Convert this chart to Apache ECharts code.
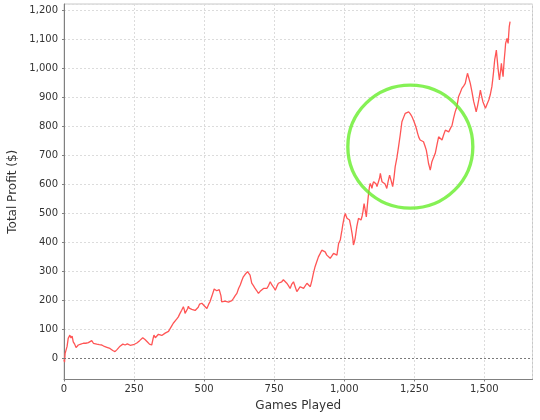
<!DOCTYPE html>
<html><head><meta charset="utf-8">
<script src="https://cdn.jsdelivr.net/npm/echarts@6/dist/echarts.min.js"></script>
<style>html,body{margin:0;padding:0;background:#fff}#c{width:540px;height:420px}</style>
</head><body><div id="c"></div>
<script>
var games = [0,2,4,7,11,15,21,25,29,33,38,43,47,51,55,60,65,69,74,78,83,87,92,99,105,111,117,122,126,131,135,140,144,148,153,158,164,169,174,178,182,186,190,195,200,205,210,214,218,222,226,230,236,242,248,254,260,265,270,276,281,285,289,293,297,301,305,309,313,317,321,326,332,337,343,349,355,361,367,373,379,384,390,396,402,408,414,420,426,429,432,435,438,441,444,447,450,456,462,468,474,479,484,488,492,497,503,510,516,521,527,530,533,536,539,545,551,554,557,560,563,569,575,581,587,593,599,605,611,617,623,629,635,640,646,652,655,658,661,664,667,670,676,682,688,694,700,706,712,718,724,730,736,742,748,754,760,765,771,777,783,789,795,801,807,813,819,825,831,837,843,849,855,861,867,873,879,885,890,896,902,908,914,920,926,932,938,944,950,956,962,968,974,977,980,983,986,989,992,995,998,1001,1004,1007,1010,1015,1019,1024,1028,1031,1033,1036,1039,1042,1045,1048,1051,1056,1060,1064,1067,1069,1071,1075,1079,1083,1087,1090,1093,1096,1099,1102,1105,1108,1111,1114,1117,1120,1123,1126,1129,1132,1135,1138,1140,1146,1152,1157,1162,1168,1173,1178,1182,1188,1194,1200,1206,1212,1218,1224,1230,1236,1242,1248,1254,1258,1262,1266,1271,1277,1283,1288,1293,1297,1301,1304,1307,1310,1313,1319,1325,1331,1337,1343,1349,1355,1361,1367,1373,1379,1385,1390,1396,1402,1408,1414,1420,1426,1432,1436,1440,1445,1450,1456,1462,1467,1471,1476,1480,1483,1486,1490,1495,1500,1504,1510,1516,1521,1527,1530,1533,1535,1537,1540,1543,1546,1549,1552,1554,1558,1561,1564,1567,1569,1571,1574,1576,1579,1581,1583,1585,1587,1589,1592];
var profit = [-5,-14,16,22,40,68,79,69,76,56,48,36,42,45,44,48,50,51,52,51,53,53,56,60,51,50,48,47,46,44,45,42,40,41,37,35,33,29,26,24,22,27,30,36,41,45,48,46,45,43,49,48,44,41,46,48,52,53,60,62,70,66,64,60,56,52,48,50,45,63,79,70,75,82,85,78,80,86,88,92,97,110,120,125,134,142,154,165,177,168,154,160,154,170,179,172,166,168,171,164,160,175,186,180,189,183,178,171,185,194,200,220,229,238,240,232,229,236,240,215,194,198,196,200,193,189,198,206,215,223,240,252,268,280,288,294,298,303,295,286,272,258,250,240,232,223,230,234,240,237,240,250,263,252,244,234,248,258,260,263,270,275,258,250,240,255,263,246,229,238,246,243,240,246,258,252,246,269,292,315,332,349,360,372,378,366,355,350,344,352,361,358,355,375,395,401,407,425,441,460,476,490,499,490,482,480,476,452,430,410,390,400,413,433,453,468,482,480,476,490,505,520,533,510,487,530,568,590,602,595,585,600,608,612,614,600,591,594,597,620,637,622,608,612,614,600,585,610,631,610,591,625,660,690,729,770,815,830,844,846,849,842,832,818,803,790,775,762,752,750,746,732,717,695,671,660,648,662,677,692,706,735,763,758,752,770,786,783,780,792,803,826,849,866,901,915,930,938,947,965,982,965,947,918,885,866,849,870,890,907,924,905,884,872,861,876,890,907,936,960,987,1008,1028,1045,1062,1030,999,975,959,990,1016,990,970,1000,1028,1060,1085,1095,1102,1093,1085,1115,1143,1160];
var highlight = [[1236, 729]];
var xMin = 0, xMax = 1672, yMin = -74, yMax = 1221;

var lineData = games.map(function (g, i) { return [g, profit[i]]; });
var chart = echarts.init(document.getElementById('c'), null, {renderer: 'canvas'});
var labelStyle = {color: '#333', fontSize: 10, fontFamily: 'DejaVu Sans'};
chart.setOption({
  animation: false,
  backgroundColor: '#fff',
  grid: {left: 64, right: 7.5, top: 4, bottom: 40.5, show: true, borderColor: '#c8c8c8', borderWidth: 1, containLabel: false, outerBoundsMode: 'none'},
  xAxis: {
    type: 'value', min: xMin, max: xMax, interval: 250,
    name: 'Games Played', nameLocation: 'middle', nameGap: 19,
    nameTextStyle: {color: '#333', fontSize: 12, fontFamily: 'DejaVu Sans'},
    axisLine: {show: true, onZero: false, lineStyle: {color: '#808080'}},
    axisTick: {show: true, length: 2, lineStyle: {color: '#808080'}},
    axisLabel: Object.assign({margin: 5, showMaxLabel: false, formatter: function (v) { return v % 250 === 0 ? v.toLocaleString('en-US') : ''; }}, labelStyle),
    splitLine: {show: true, lineStyle: {color: '#dcdcdc', type: [2, 2]}}
  },
  yAxis: {
    type: 'value', min: yMin, max: yMax, splitNumber: 13,
    name: 'Total Profit ($)', nameLocation: 'middle', nameGap: 30,
    nameTextStyle: {color: '#333', fontSize: 12, fontFamily: 'DejaVu Sans'},
    axisLine: {show: true, lineStyle: {color: '#808080'}},
    axisTick: {show: true, length: 2, lineStyle: {color: '#808080'}},
    axisLabel: Object.assign({margin: 6, showMinLabel: false, showMaxLabel: false, formatter: function (v) { return v % 100 === 0 ? v.toLocaleString('en-US') : ''; }}, labelStyle),
    splitLine: {show: true, lineStyle: {color: '#dcdcdc', type: [2, 2]}}
  },
  series: [
    {
      type: 'line', data: lineData, showSymbol: false, symbol: 'none',
      lineStyle: {color: '#ff5555', width: 1.3}, itemStyle: {color: '#ff5555'},
      markLine: {silent: true, symbol: 'none', label: {show: false},
        lineStyle: {color: '#7a7a7a', type: [2, 2], width: 1}, data: [{yAxis: 0}]},
      z: 2
    },
    {
      type: 'scatter', data: highlight, symbol: 'circle', symbolSize: [125, 123], silent: true,
      itemStyle: {color: 'rgba(0,0,0,0)', borderColor: '#66ee2a', borderWidth: 3.3},
      z: 3
    }
  ]
});
</script>
</body></html>
